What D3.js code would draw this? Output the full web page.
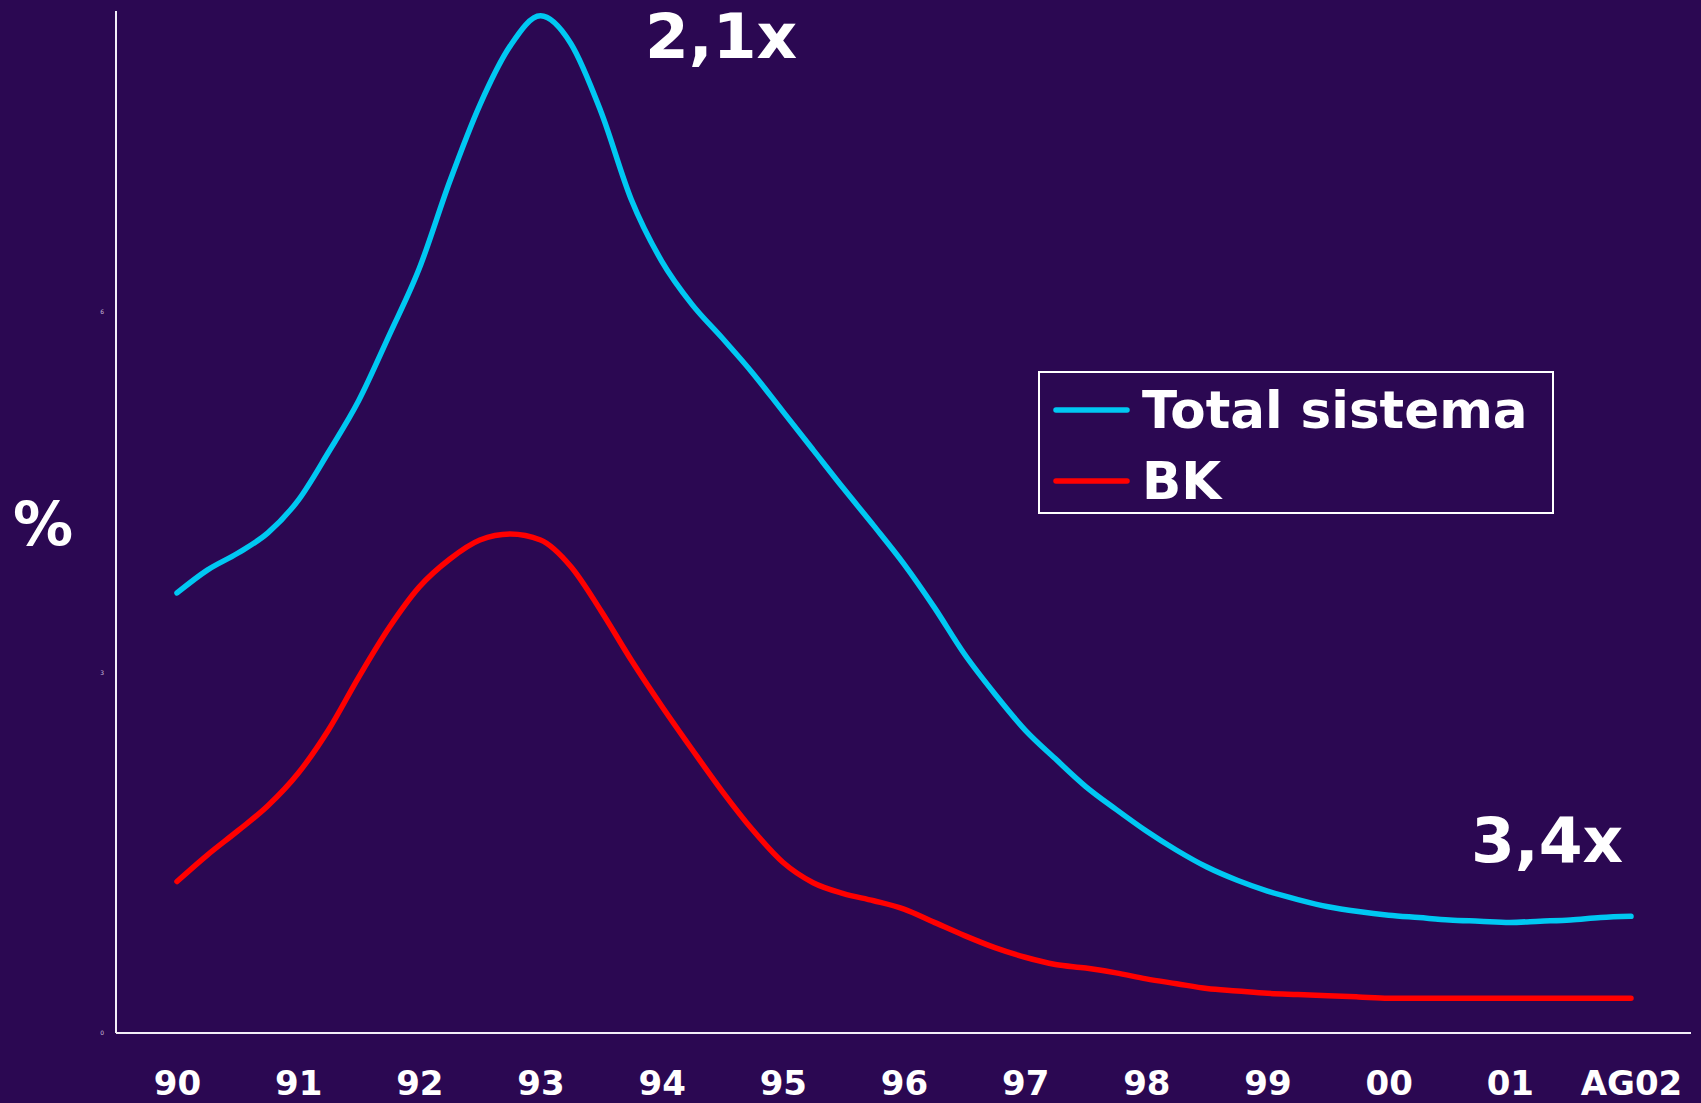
<!DOCTYPE html>
<html>
<head>
<meta charset="utf-8">
<script src="https://cdn.jsdelivr.net/npm/d3@7"></script>
<style>
  html, body { margin: 0; padding: 0; background: #2b0852; }
  svg { display: block; }
</style>
</head>
<body>
<script>
// tick labels along the bottom
var yearLabels = ["90", "91", "92", "93", "94", "95", "96", "97", "98", "99", "00", "01", "AG02"];

// quarterly positions (0 = 90, 12 = AG02)
var periods = [0, 0.25, 0.5, 0.75, 1, 1.25, 1.5, 1.75, 2, 2.25, 2.5, 2.75, 3, 3.25, 3.5, 3.75,
    4, 4.25, 4.5, 4.75, 5, 5.25, 5.5, 5.75, 6, 6.25, 6.5, 6.75, 7, 7.25, 7.5, 7.75,
    8, 8.25, 8.5, 8.75, 9, 9.25, 9.5, 9.75, 10, 10.25, 10.5, 10.75, 11, 11.25, 11.5, 11.75, 12];

var totalSistema = [3.66, 3.85, 3.99, 4.16, 4.43, 4.83, 5.26, 5.80, 6.36, 7.08, 7.72, 8.21, 8.46, 8.23, 7.66, 6.93,
    6.42, 6.06, 5.78, 5.49, 5.17, 4.85, 4.53, 4.22, 3.90, 3.54, 3.15, 2.82, 2.52, 2.28, 2.05, 1.86,
    1.68, 1.52, 1.38, 1.27, 1.18, 1.11, 1.05, 1.01, 0.98, 0.96, 0.94, 0.93, 0.92, 0.93, 0.94, 0.96, 0.97];

var bk = [1.26, 1.48, 1.68, 1.89, 2.16, 2.52, 2.96, 3.37, 3.71, 3.94, 4.10, 4.15, 4.10, 3.88, 3.51, 3.10,
    2.72, 2.36, 2.01, 1.69, 1.42, 1.25, 1.16, 1.10, 1.03, 0.92, 0.81, 0.71, 0.63, 0.57, 0.54, 0.50,
    0.45, 0.41, 0.37, 0.35, 0.33, 0.32, 0.31, 0.30, 0.29, 0.29, 0.29, 0.29, 0.29, 0.29, 0.29, 0.29, 0.29];

var yTicks = [0, 3, 6];

var seriesNames = ["Total sistema", "BK"];
var colors = ["#00c8f2", "#ff0000"];

var W = 1701, H = 1103;
var font = "'DejaVu Sans', Verdana, sans-serif";

var svg = d3.select("body").append("svg")
    .attr("width", W)
    .attr("height", H)
    .style("background", "#2b0852");

// scales
var x = d3.scaleLinear().domain([0, 12]).range([177, 1631]);
var y = d3.scaleLinear().domain([0, 8.5]).range([1033, 11]);

// axis lines
svg.append("line")
    .attr("x1", 116).attr("x2", 116)
    .attr("y1", 11).attr("y2", 1033)
    .attr("stroke", "#f2eef7").attr("stroke-width", 2);
svg.append("line")
    .attr("x1", 116).attr("x2", 1691)
    .attr("y1", 1033).attr("y2", 1033)
    .attr("stroke", "#f2eef7").attr("stroke-width", 2);

// x axis labels
var xAxis = svg.append("g")
    .attr("transform", "translate(0,1033)")
    .call(d3.axisBottom(x)
        .tickValues(d3.range(yearLabels.length))
        .tickFormat(function(i) { return yearLabels[i]; })
        .tickSize(0)
        .tickPadding(0));
xAxis.select(".domain").remove();
xAxis.selectAll("text")
    .attr("y", 62)
    .attr("dy", 0)
    .attr("fill", "#ffffff")
    .style("font-family", font)
    .style("font-weight", "bold")
    .style("font-size", "34px");

// tiny y tick labels
var yAxis = svg.append("g")
    .attr("transform", "translate(104,0)")
    .call(d3.axisLeft(y).tickValues(yTicks).tickSize(0).tickPadding(0));
yAxis.select(".domain").remove();
yAxis.selectAll("text")
    .attr("fill", "#c9bcdc")
    .style("font-family", font)
    .style("font-size", "6px");

// y label
svg.append("text")
    .attr("x", 43).attr("y", 545)
    .attr("text-anchor", "middle")
    .attr("fill", "#ffffff")
    .style("font-family", font)
    .style("font-weight", "bold")
    .style("font-size", "60px")
    .text("%");

// lines
var line = d3.line()
    .x(function(d) { return x(d[0]); })
    .y(function(d) { return y(d[1]); })
    .curve(d3.curveMonotoneX);

[totalSistema, bk].forEach(function(vals, i) {
    svg.append("path")
        .datum(periods.map(function(p, j) { return [p, vals[j]]; }))
        .attr("fill", "none")
        .attr("stroke", colors[i])
        .attr("stroke-width", 5.5)
        .attr("stroke-linecap", "round")
        .attr("stroke-linejoin", "round")
        .attr("d", line);
});

// ratio annotations
svg.append("text")
    .attr("x", 721).attr("y", 58)
    .attr("text-anchor", "middle")
    .attr("fill", "#ffffff")
    .style("font-family", font)
    .style("font-weight", "bold")
    .style("font-size", "63px")
    .text("2,1x");
svg.append("text")
    .attr("x", 1547).attr("y", 862)
    .attr("text-anchor", "middle")
    .attr("fill", "#ffffff")
    .style("font-family", font)
    .style("font-weight", "bold")
    .style("font-size", "63px")
    .text("3,4x");

// legend
var legend = svg.append("g");
legend.append("rect")
    .attr("x", 1039).attr("y", 372)
    .attr("width", 514).attr("height", 141)
    .attr("fill", "none")
    .attr("stroke", "#ffffff")
    .attr("stroke-width", 2);

seriesNames.forEach(function(name, i) {
    var ly = 410 + i * 71;
    legend.append("line")
        .attr("x1", 1056).attr("x2", 1127)
        .attr("y1", ly).attr("y2", ly)
        .attr("stroke", colors[i])
        .attr("stroke-width", 5.5)
        .attr("stroke-linecap", "round");
    legend.append("text")
        .attr("x", 1142).attr("y", ly + 18)
        .attr("fill", "#ffffff")
        .style("font-family", font)
        .style("font-weight", "bold")
        .style("font-size", "51.5px")
        .text(name);
});
</script>
</body>
</html>
